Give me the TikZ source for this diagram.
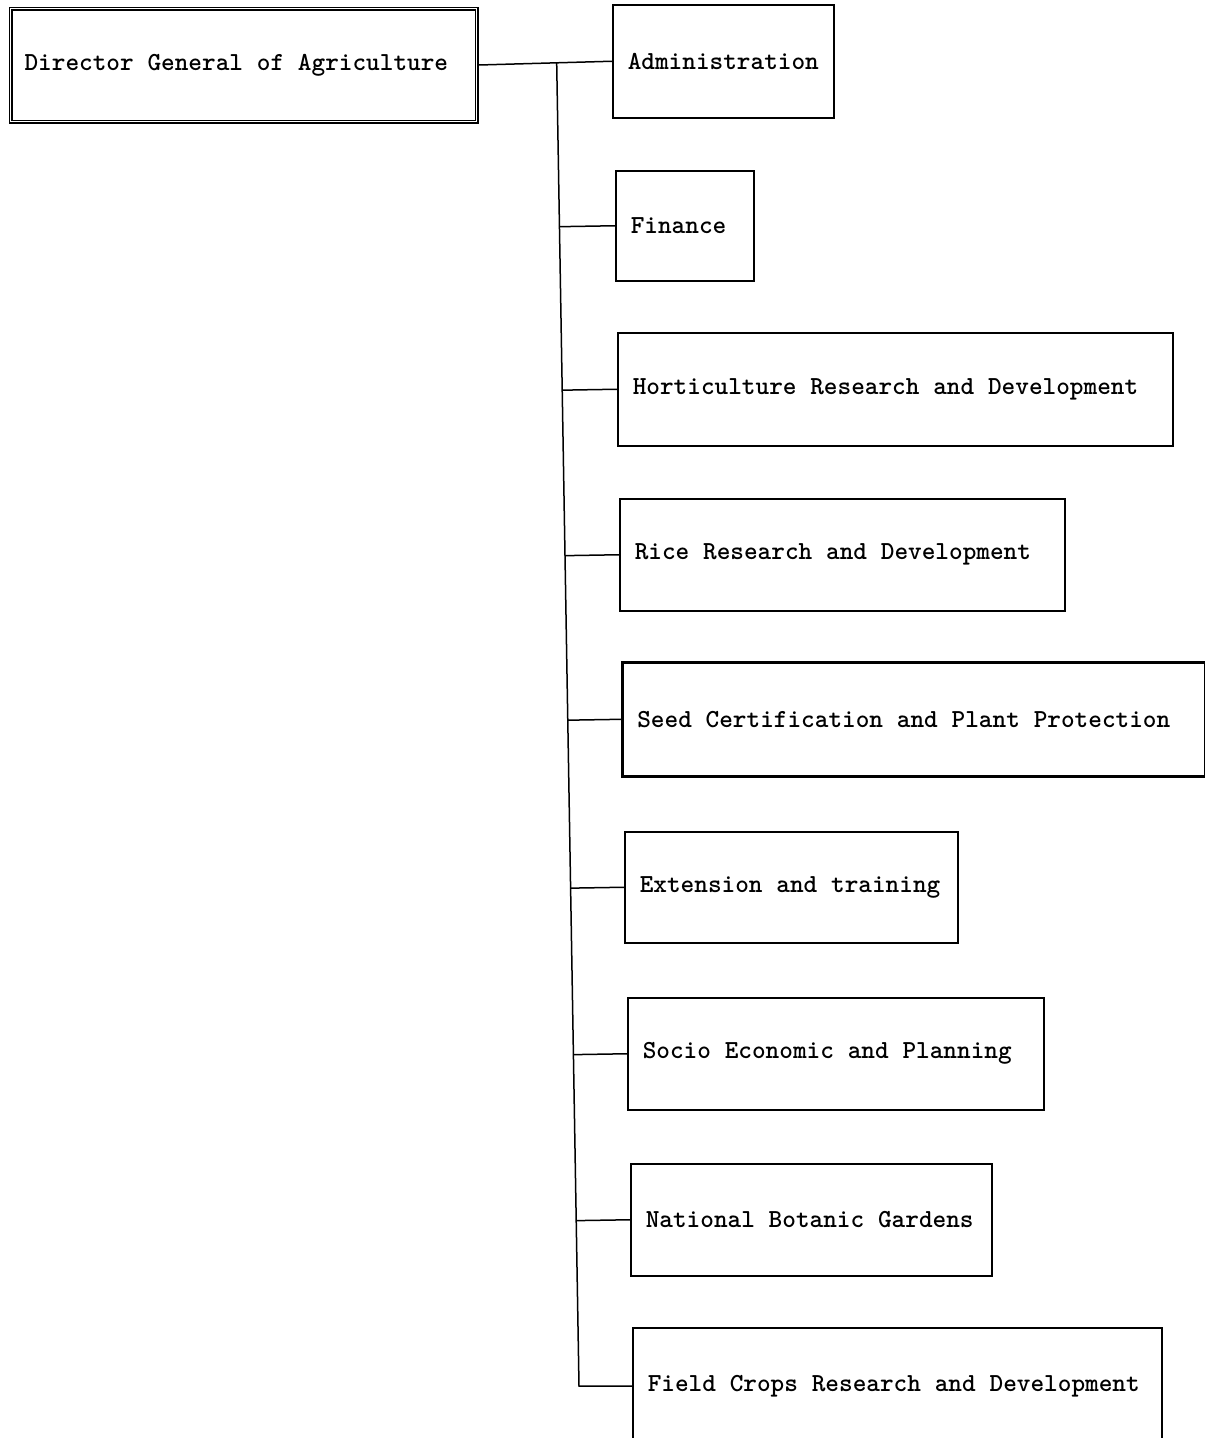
\documentclass[tikz,border=0pt]{standalone}
\usetikzlibrary{calc}
\begin{document}
\begin{tikzpicture}[x=1pt,y=-1pt,
  unit/.style={draw, line width=1.5pt, anchor=north west, align=left,
    inner xsep=15pt, inner ysep=0pt,
    font=\fontsize{26}{30}\selectfont\ttfamily\bfseries,
    execute at begin node={\spaceskip=13.8pt\relax}},
  bold unit/.style={unit, line width=2.6pt},
  head/.style={unit, double, line width=1.1pt, double distance=1.8pt, inner xsep=14pt},
  link/.style={line width=1.5pt}]
\clip (0,0) rectangle (1205,1438);
\fill[white] (0,0) rectangle (1205,1438);

\node[head, text width=438pt, minimum height=113pt] (dg) at (10,8) {Director General of Agriculture};

\node[unit, text width=191pt, minimum height=113pt] (adm) at (612,4) {Administration};
\node[unit, text width=108pt, minimum height=110pt] (fin) at (615,170) {Finance};
\node[unit, text width=525pt, minimum height=113pt] (hort) at (617,332) {Horticulture Research and Development};
\node[unit, text width=415pt, minimum height=112pt] (rice) at (619,498) {Rice Research and Development};
\node[bold unit, text width=553pt, minimum height=114pt] (seed) at (621,661) {Seed Certification and Plant Protection};
\node[unit, text width=303pt, minimum height=111pt] (ext) at (624,831) {Extension and training};
\node[unit, text width=386pt, minimum height=112pt] (soc) at (627,997) {Socio Economic and Planning};
\node[unit, text width=331pt, minimum height=112pt] (nbg) at (630,1163) {National Botanic Gardens};
\node[unit, text width=499pt, minimum height=117pt] (fcr) at (632,1327) {Field Crops Research and Development};

\draw[link] (dg.east) -- (adm.west);
\coordinate (ttop) at ($(dg.east)!0.59!(adm.west)$);
\coordinate (tbot) at (579,1386);
\draw[link] (ttop) -- (tbot) -- (tbot -| fcr.west);
\foreach \n in {fin,hort,rice,seed,ext,soc,nbg}{
  \draw[link] ($(ttop)!(\n.west)!(tbot)$) -- (\n.west);
}
\end{tikzpicture}
\end{document}
